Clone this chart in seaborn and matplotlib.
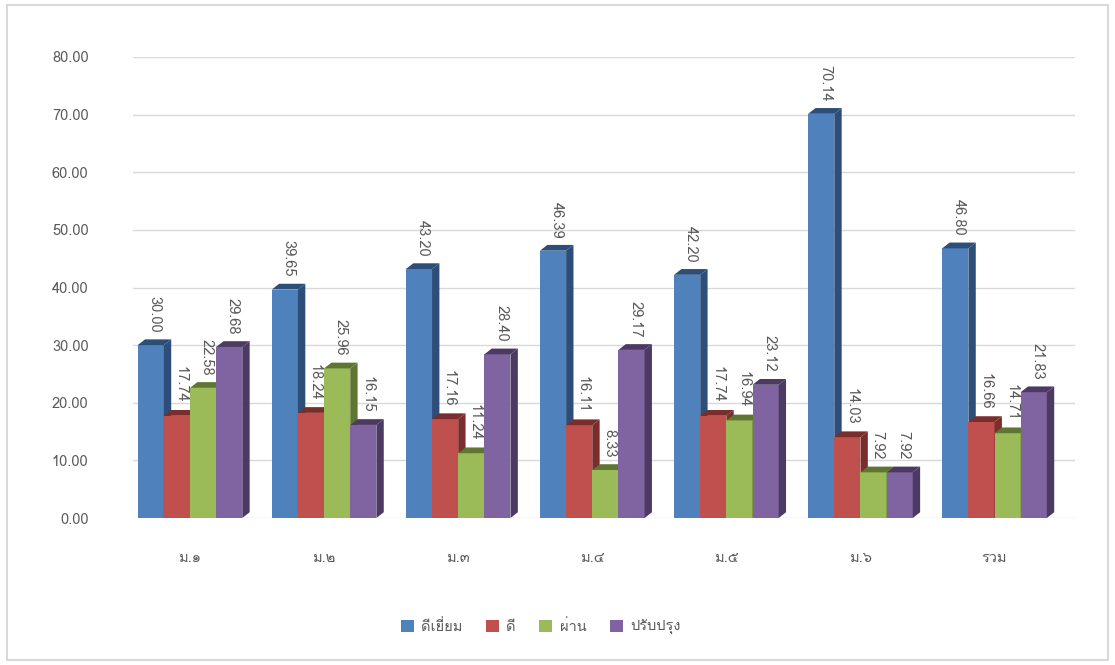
import matplotlib
matplotlib.use("Agg")
import matplotlib.pyplot as plt
from matplotlib import font_manager
from matplotlib.ft2font import FT2Font
from matplotlib.patches import Polygon, Rectangle
import seaborn as sns
import pandas as pd

# ข้อมูลจากกราฟ
categories = ["ม.๑", "ม.๒", "ม.๓", "ม.๔", "ม.๕", "ม.๖", "รวม"]
series = ["ดีเยี่ยม", "ดี", "ผ่าน", "ปรับปรุง"]
excellent = [30.00, 39.65, 43.20, 46.39, 42.20, 70.14, 46.80]
good = [17.74, 18.24, 17.16, 16.11, 17.74, 14.03, 16.66]
passed = [22.58, 25.96, 11.24, 8.33, 16.94, 7.92, 14.71]
improve = [29.68, 16.15, 28.40, 29.17, 23.12, 7.92, 21.83]

colors = ["#4F81BD", "#C0504D", "#9BBB59", "#8064A2"]
side_colors = ["#2D4E78", "#7A2E2C", "#5E7631", "#4C3A63"]
text_color = "#595959"


def find_thai_font():
    # chercher une police qui contient les caractères thaïs
    for f in font_manager.fontManager.ttflist:
        try:
            ft = FT2Font(f.fname)
            if ft.get_char_index(0x0E01) and ft.get_char_index(0x0E51):
                return f.name
        except Exception:
            continue
    return None


sns.set_theme(style="white")
thai = find_thai_font()
plt.rcParams["font.family"] = [thai, "DejaVu Sans"] if thai else ["DejaVu Sans"]

df = pd.DataFrame({
    "category": categories * 4,
    "series": [s for s in series for _ in categories],
    "value": excellent + good + passed + improve,
})

fig = plt.figure(figsize=(11.15, 6.65), dpi=100)
ax = fig.add_axes([133 / 1115, 1 - 518 / 665, (1075 - 133) / 1115, (518 - 57) / 665])

sns.barplot(data=df, x="category", y="value", hue="series", hue_order=series,
            order=categories, palette=colors, saturation=1, width=0.78,
            errorbar=None, ax=ax, linewidth=0)

# faces 3D (côté et dessus) à partir des barres
d = 0.055
dy = 1.0
for k, cont in enumerate(ax.containers):
    for bar in cont:
        x0 = bar.get_x()
        w = bar.get_width()
        h = bar.get_height()
        x1 = x0 + w
        bar.set_zorder(3 + k)
        side = Polygon([(x1, 0), (x1 + d, dy), (x1 + d, h + dy), (x1, h)],
                       closed=True, facecolor=side_colors[k], edgecolor="none", zorder=3 + k)
        top = Polygon([(x0, h), (x0 + d, h + dy), (x1 + d, h + dy), (x1, h)],
                      closed=True, facecolor=side_colors[k], edgecolor="none", zorder=3 + k)
        ax.add_patch(side)
        ax.add_patch(top)
        ax.text(x0 + w / 2 + d / 2, h + dy + 1.2, f"{h:.2f}", rotation=270,
                ha="center", va="bottom", fontsize=10.5, color=text_color, zorder=10)

ax.set_xlim(-0.425, 6.60)
ax.set_ylim(0, 80)
ax.set_yticks(range(0, 81, 10))
ax.set_yticklabels([f"{v:.2f}" for v in range(0, 81, 10)])
ax.yaxis.grid(True, color="#D9D9D9", linewidth=1)
ax.set_axisbelow(True)
for s in ax.spines.values():
    s.set_visible(False)
ax.tick_params(axis="y", length=0, pad=32, labelsize=10.5, labelcolor=text_color)
ax.tick_params(axis="x", length=0, pad=24, labelsize=10.5, labelcolor=text_color)
ax.set_xlabel("")
ax.set_ylabel("")

handles, labels = ax.get_legend_handles_labels()
ax.get_legend().remove()
fig.legend(handles, labels, loc="center", bbox_to_anchor=(0.485, 0.057), ncol=4,
           frameon=False, fontsize=10.5, handlelength=0.9, handleheight=0.9,
           columnspacing=1.6, handletextpad=0.5, labelcolor=text_color)

fig.patches.append(Rectangle((0.006, 0.008), 0.988, 0.984, transform=fig.transFigure,
                             fill=False, edgecolor="#D9D9D9", linewidth=1.5))

fig.savefig("out.png", dpi=100)
